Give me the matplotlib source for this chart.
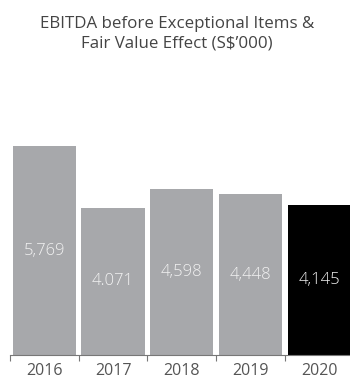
import matplotlib
matplotlib.use("Agg")
import matplotlib.pyplot as plt

years = ["2016", "2017", "2018", "2019", "2020"]
values = [5769, 4071, 4598, 4448, 4145]
value_labels = ["5,769", "4.071", "4,598", "4,448", "4,145"]
colors = ["#a7a8ab", "#a7a8ab", "#a7a8ab", "#a7a8ab", "#000000"]

plt.rcParams['font.family'] = ['Open Sans', 'DejaVu Sans']

fig = plt.figure(figsize=(3.5, 3.79), dpi=100)
ax = fig.add_axes([10/350, 24/379, 343.5/350, 217/379])
x = list(range(len(years)))
ax.bar(x, values, width=0.92, color=colors)
for xi, v, lab in zip(x, values, value_labels):
    ax.text(xi, v / 2, lab, ha='center', va='center', color='#f2f2f2',
            fontsize=12, fontweight='light')
ax.set_xlim(-0.5, 4.5)
ax.set_ylim(0, 6000)
for s in ['top', 'right', 'left']:
    ax.spines[s].set_visible(False)
ax.spines['bottom'].set_color('#777777')
ax.spines['bottom'].set_linewidth(0.8)
ax.set_yticks([])
ax.set_xticks(x)
ax.set_xticklabels(years, fontsize=11.5, color='#555555')
ax.tick_params(axis='x', which='major', length=0, pad=6)
ax.set_xticks([-0.5, 0.5, 1.5, 2.5, 3.5], minor=True)
ax.tick_params(axis='x', which='minor', length=4, color='#777777', width=0.8)

fig.text(0.505, 1 - 34/379, "EBITDA before Exceptional Items &\nFair Value Effect (S$\u2019000)",
         ha='center', va='center', fontsize=12.2, color='#444444', linespacing=1.25)

fig.savefig("out.png", dpi=100)
